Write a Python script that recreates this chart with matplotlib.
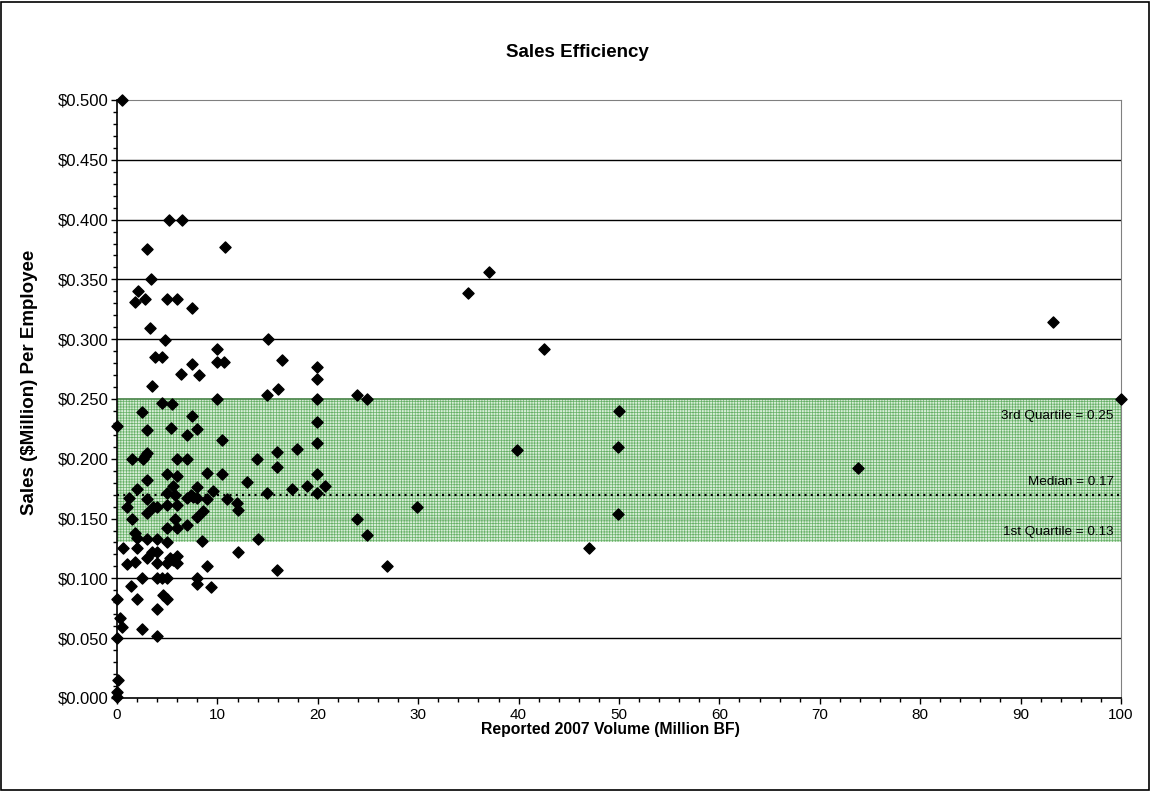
import matplotlib
matplotlib.use("Agg")
import matplotlib.pyplot as plt
from matplotlib.ticker import MultipleLocator, FuncFormatter
from matplotlib.patches import Rectangle

plt.rcParams['font.family'] = ['Liberation Sans', 'DejaVu Sans']
plt.rcParams['hatch.linewidth'] = 0.5

# Reported 2007 volume (million BF) and sales per employee ($ million)
volume = [0.5, 5.2, 6.5, 3.0, 10.8, 3.4, 37.0, 35.0,
          2.1, 1.8, 2.8, 5.0, 6.0, 7.5, 93.2,
          3.3, 4.8, 15.0, 10.0, 42.5,
          3.8, 4.5, 7.5, 10.0, 10.7, 16.4, 19.9,
          6.4, 8.2, 19.9, 3.5, 16.0, 14.9, 23.9,
          19.9, 24.9, 10.0, 100.0,
          4.5, 5.5, 2.5, 7.5, 50.0, 0.0, 3.0, 5.4, 7.0, 8.0, 10.5, 19.9, 19.9,
          15.9, 17.9, 39.8, 49.9, 73.8,
          1.5, 2.6, 3.0, 2.8, 6.0, 7.0, 13.9, 15.9,
          3.0, 5.0, 6.0, 9.0, 10.5, 12.9, 19.9,
          2.0, 5.6, 8.0, 9.6, 17.4, 18.9, 20.7,
          1.2, 3.0, 5.0, 5.8, 7.0, 7.6, 8.0, 9.0, 11.0, 14.9, 19.9, 7.4,
          11.9, 12.0, 3.6, 6.0, 1.0, 5.0, 4.0, 29.9,
          1.5, 3.0, 8.0, 8.6, 5.8, 23.9, 49.9,
          5.0, 6.0, 7.0, 1.8, 2.0, 3.0, 4.0, 5.0, 8.5, 14.0, 24.9,
          0.6, 2.0, 1.0, 1.8, 3.0, 3.5, 4.0, 4.0, 5.0, 5.3, 6.0, 6.0, 5.6, 9.0,
          12.0, 47.0, 26.9, 15.9,
          1.4, 2.5, 4.0, 4.5, 5.0, 8.0, 8.0, 9.4,
          0.0, 2.0, 4.6, 5.0, 4.0, 0.3, 0.5, 2.5, 4.0, 0.0, 0.1, 0.0, 0.0]
sales = [0.500, 0.400, 0.400, 0.375, 0.377, 0.350, 0.356, 0.339,
         0.340, 0.331, 0.334, 0.334, 0.334, 0.326, 0.314,
         0.309, 0.299, 0.300, 0.292, 0.292,
         0.285, 0.285, 0.279, 0.281, 0.281, 0.283, 0.277,
         0.271, 0.270, 0.267, 0.261, 0.258, 0.253, 0.253,
         0.250, 0.250, 0.250, 0.250,
         0.247, 0.246, 0.239, 0.236, 0.240, 0.227, 0.224, 0.226, 0.220, 0.225, 0.216, 0.231, 0.213,
         0.206, 0.208, 0.207, 0.210, 0.192,
         0.200, 0.200, 0.205, 0.202, 0.200, 0.200, 0.200, 0.193,
         0.182, 0.187, 0.186, 0.188, 0.187, 0.181, 0.187,
         0.175, 0.177, 0.176, 0.173, 0.175, 0.177, 0.177,
         0.167, 0.166, 0.171, 0.170, 0.167, 0.168, 0.167, 0.166, 0.166, 0.171, 0.171, 0.170,
         0.163, 0.157, 0.160, 0.161, 0.160, 0.161, 0.160, 0.160,
         0.150, 0.155, 0.151, 0.156, 0.150, 0.150, 0.154,
         0.142, 0.142, 0.145, 0.138, 0.134, 0.133, 0.133, 0.130, 0.131, 0.133, 0.136,
         0.125, 0.125, 0.112, 0.114, 0.117, 0.122, 0.122, 0.113, 0.113, 0.117, 0.119, 0.113, 0.115, 0.110,
         0.122, 0.125, 0.110, 0.107,
         0.094, 0.100, 0.100, 0.100, 0.100, 0.100, 0.095, 0.093,
         0.083, 0.083, 0.086, 0.083, 0.074, 0.067, 0.059, 0.058, 0.052, 0.050, 0.015, 0.005, 0.001]

q1, median, q3 = 0.13, 0.17, 0.25
band_labels = ['3rd Quartile = 0.25', 'Median = 0.17', '1st Quartile = 0.13']

fig = plt.figure(figsize=(11.51, 7.91), dpi=100)
fig.patches.append(Rectangle((0.001, 0.001), 0.997, 0.997, transform=fig.transFigure,
                             fill=False, edgecolor='black', linewidth=1.2))
ax = fig.add_axes([0.1017, 0.1176, 0.8722, 0.756])

# gridlines
for yv in [0.05, 0.10, 0.15, 0.20, 0.25, 0.30, 0.35, 0.40, 0.45]:
    ax.axhline(yv, color='black', linewidth=1.0, zorder=1)

# interquartile band
ax.axhspan(q1, q3, xmin=0, xmax=1, facecolor='#d3ebd3', edgecolor='#5aaa5a',
           hatch='++++++', linewidth=0, alpha=0.9, zorder=2)
ax.axhline(q3, color='#4d8a4d', linewidth=1.2, zorder=2)
ax.axhline(median, color='black', linewidth=1.5, linestyle=(0, (1, 2)), zorder=3)

ax.scatter(volume, sales, marker='D', s=32, color='black', zorder=4, clip_on=False)

ax.text(99.3, 0.236, band_labels[0], ha='right', va='center', fontsize=9.7, zorder=5)
ax.text(99.3, 0.181, band_labels[1], ha='right', va='center', fontsize=9.7, zorder=5)
ax.text(99.3, 0.139, band_labels[2], ha='right', va='center', fontsize=9.7, zorder=5)

ax.set_xlim(0, 100)
ax.set_ylim(0, 0.5)
ax.xaxis.set_major_locator(MultipleLocator(10))
ax.xaxis.set_minor_locator(MultipleLocator(2))
ax.yaxis.set_major_locator(MultipleLocator(0.05))
ax.yaxis.set_minor_locator(MultipleLocator(0.01))
ax.yaxis.set_major_formatter(FuncFormatter(lambda v, p: '$%.3f' % v))
ax.tick_params(which='major', direction='out', length=4, width=1)
ax.tick_params(which='minor', direction='out', length=3, width=1)
ax.tick_params(axis='x', which='major', labelsize=11, pad=3)
ax.tick_params(axis='y', which='major', labelsize=12, pad=2)

for side in ['top', 'right']:
    ax.spines[side].set_color('#808080')
for side in ['left', 'bottom']:
    ax.spines[side].set_linewidth(1.2)

fig.text(0.502, 0.934, 'Sales Efficiency', fontsize=13.5, fontweight='bold',
         ha='center', va='center')
ax.set_xlabel('Reported 2007 Volume (Million BF)', fontsize=11.3, fontweight='bold', labelpad=0)
ax.xaxis.label.set_x(0.491)
ax.set_ylabel('Sales ($Million) Per Employee', fontsize=13.5, fontweight='bold')
ax.yaxis.set_label_coords(-0.079, 0.527)

fig.savefig('out.png', dpi=100)
